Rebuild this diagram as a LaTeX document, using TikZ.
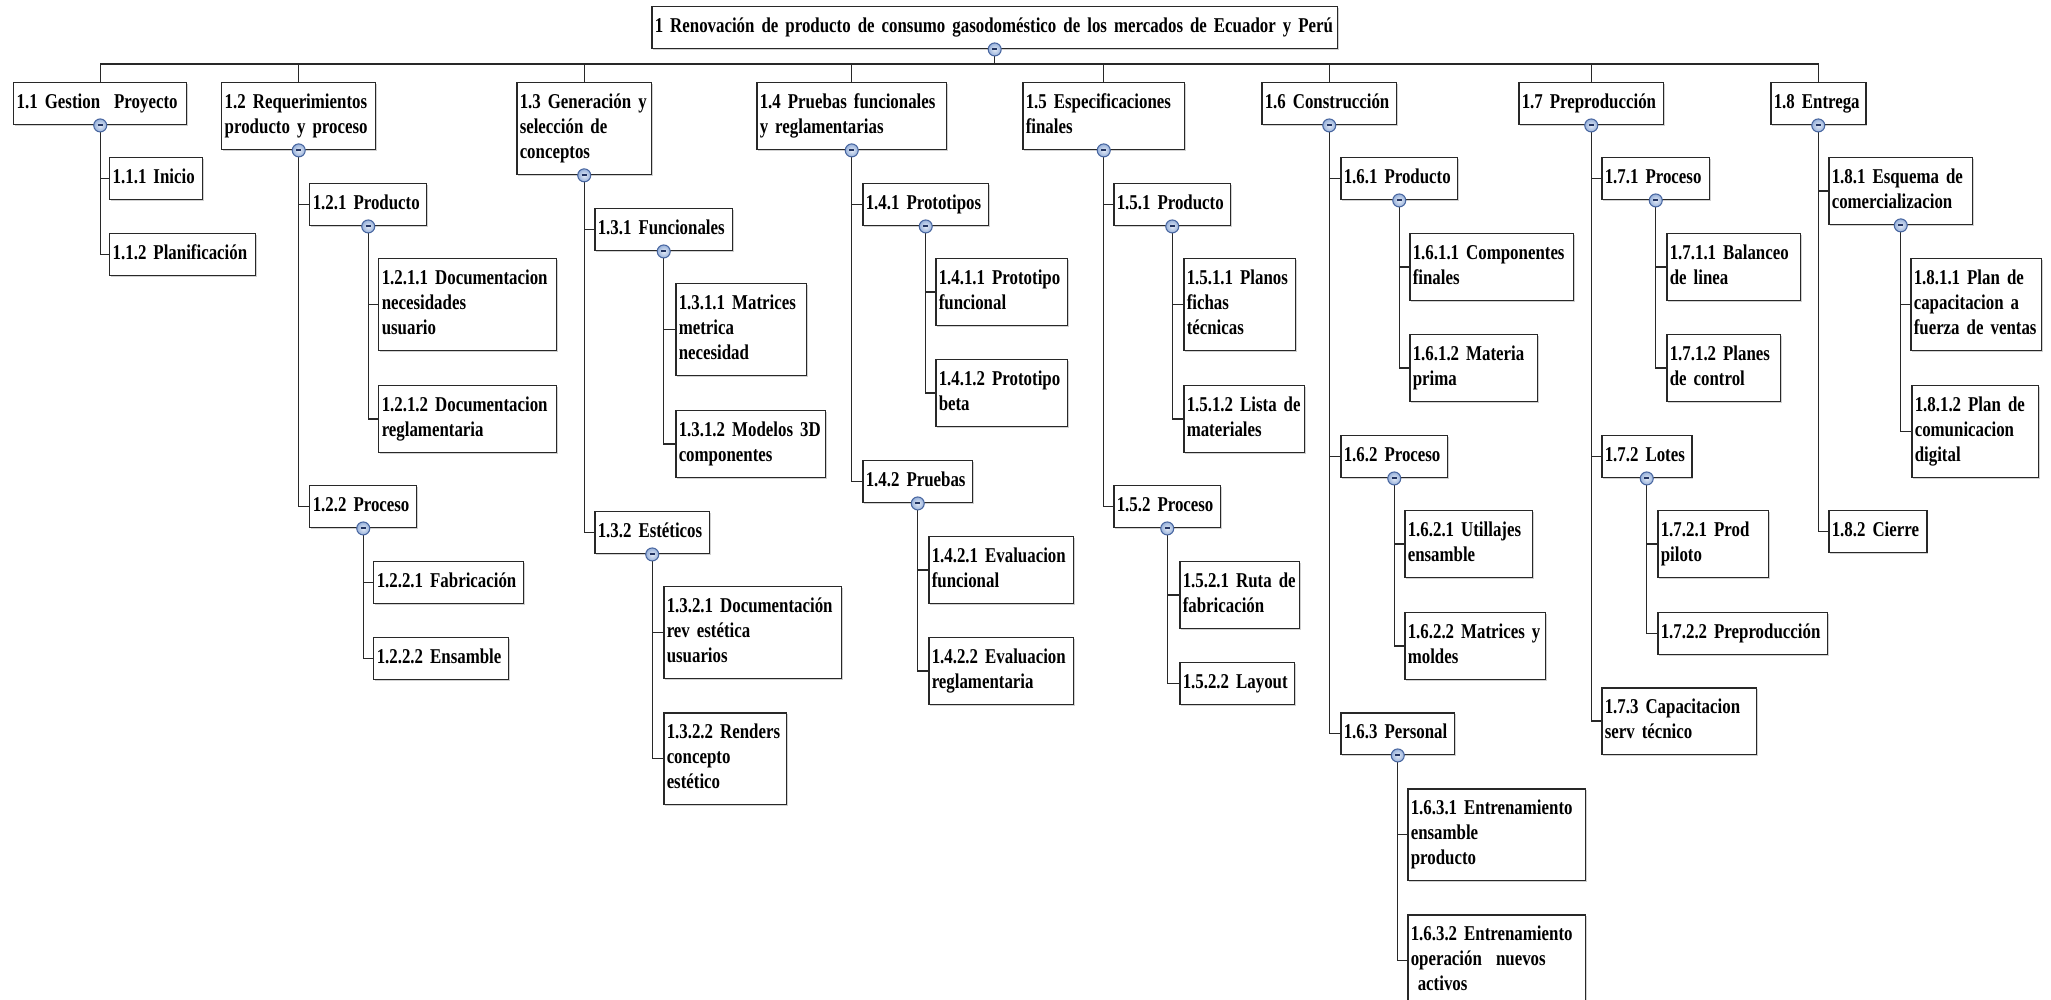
\documentclass[tikz,border=0pt]{standalone}
\usepackage{fontspec}
\setmainfont{Liberation Serif}[FakeStretch=0.80]
\usetikzlibrary{shadows}
\definecolor{linegray}{RGB}{40,40,40}
\definecolor{togglerim}{RGB}{72,102,160}
\definecolor{togglefill}{RGB}{150,176,218}
\definecolor{toggledash}{RGB}{34,52,98}
\hyphenpenalty=10000
\exhyphenpenalty=10000

\begin{document}
\begin{tikzpicture}[x=0.02cm, y=-0.02cm,
	wbsbox/.style={draw=linegray, line width=0.85pt, fill=white, anchor=north west, align=left,
		inner xsep=0.06cm, inner ysep=0.17cm, font=\fontsize{12}{14.2}\selectfont\bfseries,
		execute at begin node=\strut, execute at end node=\strut,
		drop shadow={shadow xshift=0.8pt, shadow yshift=-0.8pt, fill=black!30, opacity=0.6}},
	link/.style={draw=linegray, line width=0.8pt},
	toggle/.style={circle, draw=togglerim, line width=0.6pt, inner color=togglefill!25!white, outer color=togglefill,
		minimum size=0.26cm, inner sep=0pt,
		path picture={\draw[toggledash, line width=1.1pt] ([xshift=-0.05cm]path picture bounding box.center) -- ([xshift=0.05cm]path picture bounding box.center);}}]
			%%%%% START %%%%%
			
			\useasboundingbox (0,0) rectangle (2051,1000);
			\coordinate (bus) at (0,64);
			
			\node[wbsbox, text width=13.6cm] (root) at (651,6) {1 Renovación de producto de consumo gasodoméstico de los mercados de Ecuador y Perú};
			
			% first level
			\node[wbsbox, text width=3.34cm] (n11) at (13,82) {1.1 Gestion~~Proyecto};
			\node[wbsbox, text width=2.96cm] (n12) at (221,82) {1.2 Requerimientos\\producto y proceso};
			\node[wbsbox, text width=2.58cm] (n13) at (516,82) {1.3 Generación y\\selección de\\conceptos};
			\node[wbsbox, text width=3.68cm] (n14) at (756,82) {1.4 Pruebas funcionales\\y reglamentarias};
			\node[wbsbox, text width=3.12cm] (n15) at (1022,82) {1.5 Especificaciones\\finales};
			\node[wbsbox, text width=2.58cm] (n16) at (1261,82) {1.6 Construcción};
			\node[wbsbox, text width=2.78cm] (n17) at (1518,82) {1.7 Preproducción};
			\node[wbsbox, text width=1.78cm] (n18) at (1770,82) {1.8 Entrega};
			
			% 1.1
			\node[wbsbox, text width=1.74cm] (n111) at (109,157) {1.1.1 Inicio};
			\node[wbsbox, text width=2.80cm] (n112) at (109,233) {1.1.2 Planificación};
			
			% 1.2
			\node[wbsbox, text width=2.22cm] (n121) at (309,183) {1.2.1 Producto};
			\node[wbsbox, text width=3.44cm] (n1211) at (378,258) {1.2.1.1 Documentacion\\necesidades\\usuario};
			\node[wbsbox, text width=3.44cm] (n1212) at (378,385) {1.2.1.2 Documentacion\\reglamentaria};
			\node[wbsbox, text width=2.02cm] (n122) at (309,485) {1.2.2 Proceso};
			\node[wbsbox, text width=2.88cm] (n1221) at (373,561) {1.2.2.1 Fabricación};
			\node[wbsbox, text width=2.58cm] (n1222) at (373,637) {1.2.2.2 Ensamble};
			
			% 1.3
			\node[wbsbox, text width=2.64cm] (n131) at (594,208) {1.3.1 Funcionales};
			\node[wbsbox, text width=2.50cm] (n1311) at (675,283) {1.3.1.1 Matrices\\metrica\\necesidad};
			\node[wbsbox, text width=2.88cm] (n1312) at (675,410) {1.3.1.2 Modelos 3D\\componentes};
			\node[wbsbox, text width=2.18cm] (n132) at (594,511) {1.3.2 Estéticos};
			\node[wbsbox, text width=3.44cm] (n1321) at (663,586) {1.3.2.1 Documentación\\rev estética\\usuarios};
			\node[wbsbox, text width=2.34cm] (n1322) at (663,712) {1.3.2.2 Renders\\concepto\\estético};
			
			% 1.4
			\node[wbsbox, text width=2.40cm] (n141) at (862,183) {1.4.1 Prototipos};
			\node[wbsbox, text width=2.52cm] (n1411) at (935,258) {1.4.1.1 Prototipo\\funcional};
			\node[wbsbox, text width=2.52cm] (n1412) at (935,359) {1.4.1.2 Prototipo\\beta};
			\node[wbsbox, text width=2.08cm] (n142) at (862,460) {1.4.2 Pruebas};
			\node[wbsbox, text width=2.78cm] (n1421) at (928,536) {1.4.2.1 Evaluacion\\funcional};
			\node[wbsbox, text width=2.78cm] (n1422) at (928,637) {1.4.2.2 Evaluacion\\reglamentaria};
			
			% 1.5
			\node[wbsbox, text width=2.22cm] (n151) at (1113,183) {1.5.1 Producto};
			\node[wbsbox, text width=2.12cm] (n1511) at (1183,258) {1.5.1.1 Planos\\fichas\\técnicas};
			\node[wbsbox, text width=2.30cm] (n1512) at (1183,385) {1.5.1.2 Lista de\\materiales};
			\node[wbsbox, text width=2.02cm] (n152) at (1113,485) {1.5.2 Proceso};
			\node[wbsbox, text width=2.28cm] (n1521) at (1179,561) {1.5.2.1 Ruta de\\fabricación};
			\node[wbsbox, text width=2.18cm] (n1522) at (1179,662) {1.5.2.2 Layout};
			
			% 1.6
			\node[wbsbox, text width=2.22cm] (n161) at (1340,157) {1.6.1 Producto};
			\node[wbsbox, text width=3.16cm] (n1611) at (1409,233) {1.6.1.1 Componentes\\finales};
			\node[wbsbox, text width=2.44cm] (n1612) at (1409,334) {1.6.1.2 Materia\\prima};
			\node[wbsbox, text width=2.02cm] (n162) at (1340,435) {1.6.2 Proceso};
			\node[wbsbox, text width=2.44cm] (n1621) at (1404,510) {1.6.2.1 Utillajes\\ensamble};
			\node[wbsbox, text width=2.70cm] (n1622) at (1404,612) {1.6.2.2 Matrices y\\moldes};
			\node[wbsbox, text width=2.16cm] (n163) at (1340,712) {1.6.3 Personal};
			\node[wbsbox, text width=3.44cm] (n1631) at (1407,788) {1.6.3.1 Entrenamiento\\ensamble\\producto};
			\node[wbsbox, text width=3.44cm] (n1632) at (1407,914) {1.6.3.2 Entrenamiento\\operación~~nuevos\\~activos};
			
			% 1.7
			\node[wbsbox, text width=2.04cm] (n171) at (1601,157) {1.7.1 Proceso};
			\node[wbsbox, text width=2.56cm] (n1711) at (1666,233) {1.7.1.1 Balanceo\\de linea};
			\node[wbsbox, text width=2.16cm] (n1712) at (1666,334) {1.7.1.2 Planes\\de control};
			\node[wbsbox, text width=1.68cm] (n172) at (1601,435) {1.7.2 Lotes};
			\node[wbsbox, text width=2.10cm] (n1721) at (1657,510) {1.7.2.1 Prod\\piloto};
			\node[wbsbox, text width=3.28cm] (n1722) at (1657,612) {1.7.2.2 Preproducción};
			\node[wbsbox, text width=2.98cm] (n173) at (1601,687) {1.7.3 Capacitacion\\serv técnico};
			
			% 1.8
			\node[wbsbox, text width=2.76cm] (n181) at (1828,157) {1.8.1 Esquema de\\comercializacion};
			\node[wbsbox, text width=2.50cm] (n1811) at (1910,258) {1.8.1.1 Plan de\\capacitacion a\\fuerza de ventas};
			\node[wbsbox, text width=2.42cm] (n1812) at (1911,385) {1.8.1.2 Plan de\\comunicacion\\digital};
			\node[wbsbox, text width=1.84cm] (n182) at (1828,510) {1.8.2 Cierre};
			
			% bus
			\draw[link] (root.south) -- (root.south |- bus);
			\draw[link] (n11.north) |- (n18.north |- bus) -- (n18.north);
			\foreach \n in {n12,n13,n14,n15,n16,n17}
				\draw[link] (\n.north) -- (\n.north |- bus);
			
			% branches
			\foreach \p/\c in {n11/n111, n11/n112,
				n12/n121, n12/n122, n121/n1211, n121/n1212, n122/n1221, n122/n1222,
				n13/n131, n13/n132, n131/n1311, n131/n1312, n132/n1321, n132/n1322,
				n14/n141, n14/n142, n141/n1411, n141/n1412, n142/n1421, n142/n1422,
				n15/n151, n15/n152, n151/n1511, n151/n1512, n152/n1521, n152/n1522,
				n16/n161, n16/n162, n16/n163, n161/n1611, n161/n1612, n162/n1621, n162/n1622, n163/n1631, n163/n1632,
				n17/n171, n17/n172, n17/n173, n171/n1711, n171/n1712, n172/n1721, n172/n1722,
				n18/n181, n18/n182, n181/n1811, n181/n1812}
				\draw[link] (\p.south) |- (\c.west);
			
			% collapse buttons
			\foreach \p in {root,n11,n12,n13,n14,n15,n16,n17,n18,n121,n122,n131,n132,n141,n142,n151,n152,n161,n162,n163,n171,n172,n181}
				\node[toggle] (t\p) at (\p.south) {};
			
			%%%%% END %%%%%
\end{tikzpicture}
\end{document}
